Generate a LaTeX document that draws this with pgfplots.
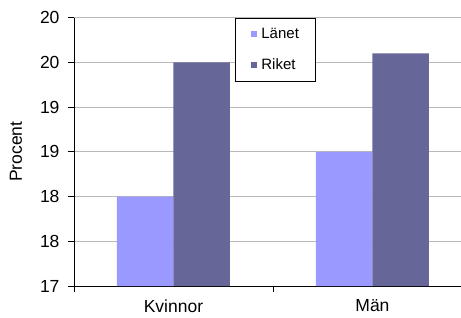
\documentclass[border=0pt]{standalone}
\usepackage{pgfplots}
\pgfplotsset{compat=1.18}
\usepackage{fontspec}
\setmainfont{Liberation Sans}
\definecolor{lanet}{HTML}{9999FF}
\definecolor{riket}{HTML}{666699}
\begin{document}
\begin{tikzpicture}
\begin{axis}[
  scale only axis, width=387pt, height=268.5pt,
  xmin=-0.5, xmax=1.445, ymin=17, ymax=20,
  axis x line*=bottom, axis y line*=left,
  ybar, bar width=56.5pt,
  xtick={-0.5,0.5,1.5}, xticklabels={},
  extra x ticks={0,1}, extra x tick labels={Kvinnor,Män},
  extra x tick style={major tick length=0pt},
  ytick={17,17.5,18,18.5,19,19.5,20}, yticklabels={17,18,18,19,19,20,20},
  ymajorgrids, grid style={gray!55, line width=0.8pt},
  tick align=outside, major tick length=6pt,
  tick style={black, line width=0.8pt},
  axis line style={black, line width=0.8pt},
  /pgf/number format/assume math mode=true,
  ticklabel style={font=\fontsize{17.5}{21}\selectfont},
  xticklabel style={yshift=-10pt},
  yticklabel style={xshift=-5pt},
  ylabel={Procent},
  ylabel style={font=\fontsize{17.5}{21}\selectfont, at={(axis description cs:0,0.5)}, anchor=center, yshift=58pt},
  legend style={at={(axis description cs:0.416,1)}, anchor=north west, draw=black, line width=0.8pt, fill=white,
    font=\fontsize{15}{18}\selectfont, inner xsep=16pt, inner ysep=10pt, row sep=19pt, column sep=4pt,
    nodes={inner sep=0pt}},
  legend cell align=left,
  legend image code/.code={\fill[#1,draw=none] (0pt,-3pt) rectangle (6pt,3pt);},
]
\addplot[fill=lanet, draw=none, bar shift=-28.25pt] coordinates {(0,18.0) (1,18.5)};
\addplot[fill=riket, draw=none, bar shift=28.25pt] coordinates {(0,19.5) (1,19.6)};
\legend{Länet,Riket}
\coordinate (sw) at (rel axis cs:0,0);
\end{axis}
\pgfresetboundingbox
\path ([shift={(-74pt,-31pt)}]sw) rectangle ([shift={(387pt,286pt)}]sw);
\end{tikzpicture}
\end{document}
